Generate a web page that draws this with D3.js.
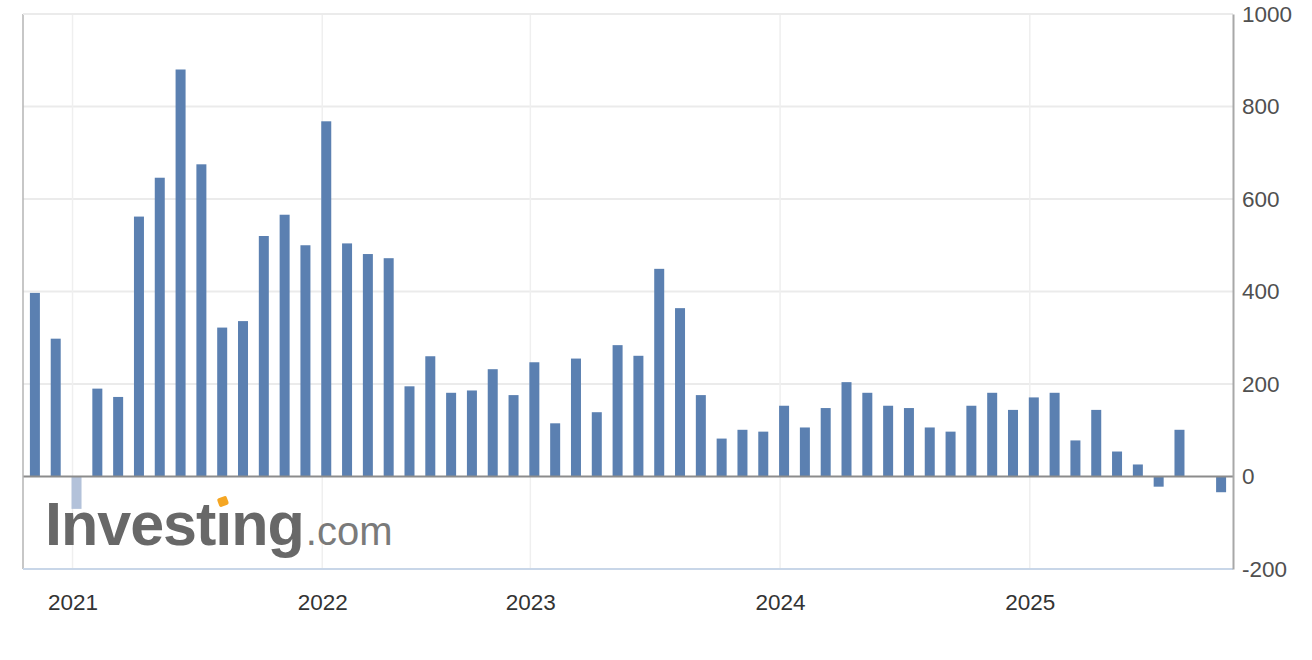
<!DOCTYPE html>
<html>
<head>
<meta charset="utf-8">
<script src="https://cdn.jsdelivr.net/npm/d3@7"></script>
<style>
  html, body { margin: 0; padding: 0; background: #fff; }
  svg { display: block; }
</style>
</head>
<body>
<svg id="chart" width="1312" height="660"></svg>
<script>
// ---- data ----
const categories = [
  "2020-11","2020-12",
  "2021-01","2021-02","2021-03","2021-04","2021-05","2021-06","2021-07","2021-08","2021-09","2021-10","2021-11","2021-12",
  "2022-01","2022-02","2022-03","2022-04","2022-05","2022-06","2022-07","2022-08","2022-09","2022-10",
  "2023-01","2023-02","2023-03","2023-04","2023-05","2023-06","2023-07","2023-08","2023-09","2023-10","2023-11","2023-12",
  "2024-01","2024-02","2024-03","2024-04","2024-05","2024-06","2024-07","2024-08","2024-09","2024-10","2024-11","2024-12",
  "2025-01","2025-02","2025-03","2025-04","2025-05","2025-06","2025-07","2025-08","2025-09","2025-10"
];
const values = [
  397, 298,
  -70, 190, 172, 562, 646, 880, 675, 322, 336, 520, 566, 500,
  768, 504, 481, 472, 195, 260, 181, 186, 232, 176,
  247, 115, 255, 139, 284, 261, 449, 364, 176, 82, 101, 97,
  153, 106, 148, 204, 181, 153, 148, 106, 97, 153, 181, 144,
  171, 181, 78, 144, 54, 26, -22, 101, null, -34
];
const highlighted = ["2021-01"];
const yTicks = [-200, 0, 200, 400, 600, 800, 1000];
const yearLabels = ["2021", "2022", "2023", "2024", "2025"];

// ---- layout ----
const svg = d3.select("#chart");
const L = 23, R = 1233, T = 14, B = 569;
const FONT = "Liberation Sans, Arial, sans-serif";

const x = d3.scalePoint().domain(categories).range([L, R]).padding(0.572);
const y = d3.scaleLinear().domain([-200, 1000]).range([B, T]);
const barW = 10;

// horizontal gridlines
svg.append("g").selectAll("line").data(yTicks.filter(d => d !== 0 && d !== -200)).join("line")
  .attr("x1", L).attr("x2", R)
  .attr("y1", d => y(d)).attr("y2", d => y(d))
  .attr("stroke", "#ebebeb").attr("stroke-width", 2);

// vertical year gridlines at first category of each year
const yearCat = yearLabels.map(yr => ({ yr, cat: categories.find(c => c.startsWith(yr)) }));
svg.append("g").selectAll("line").data(yearCat).join("line")
  .attr("x1", d => x(d.cat) - 4).attr("x2", d => x(d.cat) - 4)
  .attr("y1", T).attr("y2", B)
  .attr("stroke", "#efefef").attr("stroke-width", 1.5);

const data = categories.map((c, i) => ({ c, v: values[i] })).filter(d => d.v !== null);

svg.append("g").selectAll("rect").data(data).join("rect")
  .attr("x", d => x(d.c) - barW / 2)
  .attr("width", barW)
  .attr("y", d => y(Math.max(0, d.v)))
  .attr("height", d => Math.abs(y(d.v) - y(0)))
  .attr("fill", d => highlighted.includes(d.c) ? "#b3c2da" : "#5b80b1");

// zero line
svg.append("line")
  .attr("x1", L).attr("x2", R).attr("y1", y(0)).attr("y2", y(0))
  .attr("stroke", "#8c8c8c").attr("stroke-width", 2);

// frame
svg.append("line").attr("x1", L).attr("x2", L).attr("y1", T).attr("y2", B)
  .attr("stroke", "#b5b5b5").attr("stroke-width", 1.5);
svg.append("line").attr("x1", L).attr("x2", R).attr("y1", T).attr("y2", T)
  .attr("stroke", "#ebebeb").attr("stroke-width", 2);
svg.append("line").attr("x1", L).attr("x2", R).attr("y1", B).attr("y2", B)
  .attr("stroke", "#c8d6e8").attr("stroke-width", 2);

// right y axis
const yAxis = d3.axisRight(y).tickValues(yTicks).tickSize(0).tickPadding(9).tickFormat(d => String(d));
const gy = svg.append("g").attr("transform", `translate(${R},0)`).call(yAxis);
gy.select(".domain").attr("stroke", "#a8a8a8").attr("stroke-width", 2);
gy.selectAll("text")
  .attr("font-family", FONT)
  .attr("font-size", 22.5).attr("fill", "#505050");

// bottom x axis: year labels
const xAxis = d3.axisBottom(x)
  .tickValues(yearCat.map(d => d.cat))
  .tickFormat(c => c.slice(0, 4))
  .tickSize(0).tickPadding(25);
const gx = svg.append("g").attr("transform", `translate(-4,${B})`).call(xAxis);
gx.select(".domain").remove();
gx.selectAll("text")
  .attr("font-family", FONT)
  .attr("font-size", 22.5).attr("fill", "#333");

// watermark logo
const logo = svg.append("g");
const word = logo.append("text")
  .attr("x", 45).attr("y", 545)
  .attr("font-family", FONT)
  .attr("font-weight", "bold").attr("font-size", 61)
  .attr("letter-spacing", -1)
  .attr("fill", "#686868").text("Invest\u0131ng");
const wEnd = word.node().getComputedTextLength();
logo.append("text")
  .attr("x", 45 + wEnd + 2).attr("y", 545)
  .attr("font-family", FONT)
  .attr("font-size", 40).attr("fill", "#7a7a7a").text(".com");
// orange dot over the dotless "i"
const ext = word.node().getExtentOfChar(6);
const cx = ext.x + ext.width / 2 - 0.5;
logo.append("rect")
  .attr("x", cx - 5).attr("y", 497)
  .attr("width", 10).attr("height", 9).attr("rx", 2)
  .attr("transform", `rotate(-20 ${cx} 501)`)
  .attr("fill", "#f5a623");
</script>
</body>
</html>
